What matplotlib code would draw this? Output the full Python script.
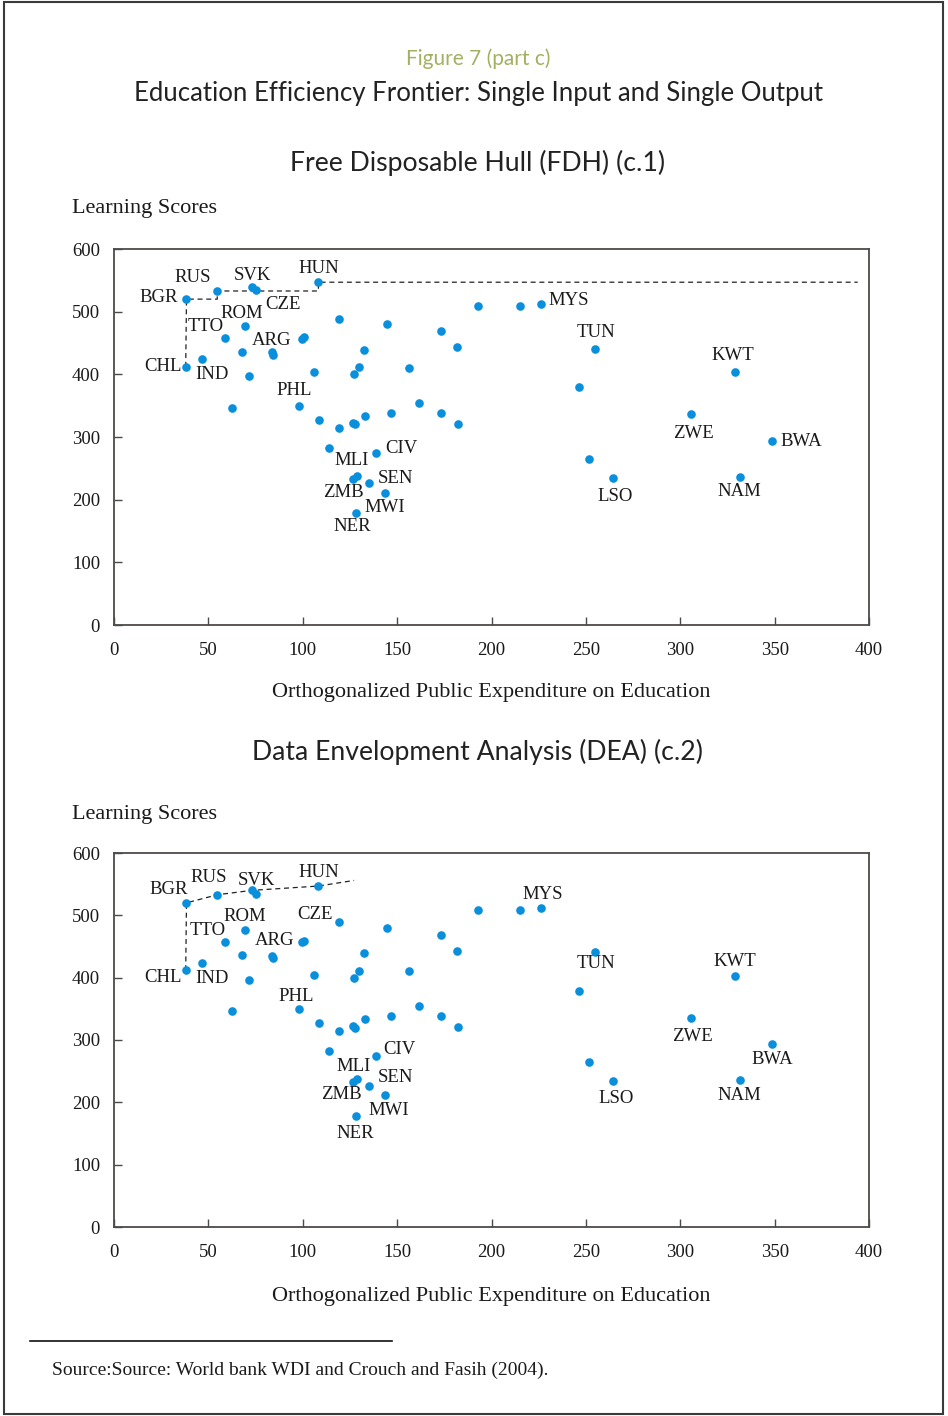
import numpy as np
import matplotlib
matplotlib.use("Agg")
import matplotlib.pyplot as plt
from matplotlib.patches import Rectangle

spend = [38.4, 54.7, 72.9, 75.2, 108.3, 38.0, 46.6, 59.0, 69.4, 68.0,
         83.9, 84.2, 71.7, 99.5, 100.5, 119.0, 144.8, 132.6, 106.0, 130.0,
         127.2, 62.3, 98.2, 108.8, 119.0, 126.4, 127.8, 133.0, 146.8, 161.8,
         173.5, 182.0, 156.5, 173.4, 181.5, 193.0, 214.9, 226.2, 255.0, 246.2,
         328.8, 305.7, 348.6, 251.8, 264.2, 331.5, 113.7, 138.9, 126.8, 128.7,
         135.3, 143.6, 128.0]
scores = [520, 533, 540, 535, 547, 412, 424, 458, 477, 436,
          435, 431, 397, 457, 459, 489, 480, 439, 404, 411,
          400, 346, 350, 327, 314, 323, 320, 334, 338, 354,
          339, 321, 410, 469, 443, 509, 509, 512, 441, 379,
          403, 336, 293, 265, 234, 236, 282, 274, 233, 238,
          227, 211, 178]

# country code -> index into the arrays above
codes = {"BGR": 0, "RUS": 1, "SVK": 2, "HUN": 4, "CHL": 5, "IND": 6,
         "TTO": 7, "ROM": 8, "ARG": 10, "CZE": 15, "PHL": 22, "MYS": 37,
         "TUN": 38, "KWT": 40, "ZWE": 41, "BWA": 42, "LSO": 44, "NAM": 45,
         "MLI": 46, "CIV": 47, "ZMB": 48, "SEN": 50, "MWI": 51, "NER": 52}

# frontiers
fdh_x = [38.0, 38.4, 54.7, 54.7, 108.3, 108.3, 394]
fdh_y = [412, 520, 520, 533, 533, 547, 547]
dea_x = [38.0, 38.4, 54.7, 72.9, 108.3, 127.2]
dea_y = [412, 520, 533, 540, 547, 556]

# label placement: (dx px, dy px down, ha)
lab_fdh = {"BGR": (-9, -2, "right"), "RUS": (-25, -13, "center"), "SVK": (1, -11, "center"),
           "HUN": (0, -14, "center"), "CZE": (-56, -14, "center"), "TTO": (-2, -11, "right"),
           "ROM": (-3, -13, "center"), "ARG": (-1, -12, "center"), "CHL": (-4, 0, "right"),
           "IND": (10, 15, "center"), "PHL": (-5, -15, "center"), "MLI": (23, 12, "center"),
           "CIV": (9, -5, "left"), "SEN": (8, -4, "left"), "ZMB": (-10, 14, "center"),
           "MWI": (0, 15, "center"), "NER": (-3, 13, "center"), "MYS": (8, -4, "left"),
           "TUN": (1, -16, "center"), "KWT": (-2, -17, "center"), "ZWE": (2, 19, "center"),
           "BWA": (8, 0, "left"), "LSO": (2, 18, "center"), "NAM": (0, 14, "center")}
lab_dea = {"BGR": (-18, -13, "center"), "RUS": (-9, -17, "center"), "SVK": (5, -10, "center"),
           "HUN": (0, -14, "center"), "CZE": (-24, -8, "center"), "TTO": (-18, -11, "center"),
           "ROM": (0, -13, "center"), "ARG": (2, -15, "center"), "CHL": (-4, 7, "right"),
           "IND": (10, 16, "center"), "PHL": (-3, -12, "center"), "MLI": (25, 15, "center"),
           "CIV": (7, -7, "left"), "SEN": (8, -8, "left"), "ZMB": (-12, 13, "center"),
           "MWI": (4, 15, "center"), "NER": (0, 17, "center"), "MYS": (2, -13, "center"),
           "TUN": (1, 11, "center"), "KWT": (0, -14, "center"), "ZWE": (1, 19, "center"),
           "BWA": (0, 15, "center"), "LSO": (3, 17, "center"), "NAM": (0, 16, "center")}

W, H = 948, 1416
serif = "Liberation Serif"
title_font = ["Lato", "DejaVu Sans"]
dot_col = "#0a8fdc"
spine_col = "#4d4a48"

fig = plt.figure(figsize=(W / 100, H / 100), dpi=100)
fig.patch.set_facecolor("white")

# page frame
fig.add_artist(Rectangle((4 / W, 2 / H), 939 / W, 1412 / H, transform=fig.transFigure,
                         fill=False, edgecolor="#3a3a3a", linewidth=1.5))


def fx(px):
    return px / W


def fy(py):
    return 1 - py / H


fig.text(fx(478), fy(59), "Figure 7 (part c)", ha="center", va="center",
         fontsize=15, color="#a3b062", family=title_font)
fig.text(fx(479), fy(94), "Education Efficiency Frontier: Single Input and Single Output",
         ha="center", va="center", fontsize=18.5, color="#222222", family=title_font)


def panel(top, bottom, title, title_y, ylab_y, xlab_y, fx_line, fy_line, labels):
    fig.text(fx(478), fy(title_y), title, ha="center", va="center", fontsize=19.2,
             color="#222222", family=title_font)
    fig.text(fx(72), fy(ylab_y), "Learning Scores", ha="left", va="center",
             fontsize=16, family=serif, color="#1a1a1a")
    ax = fig.add_axes([fx(114), fy(bottom), fx(869) - fx(114), (bottom - top) / H])
    ax.set_xlim(0, 400)
    ax.set_ylim(0, 600)
    ax.set_xticks(np.arange(0, 401, 50))
    ax.set_yticks(np.arange(0, 601, 100))
    ax.tick_params(direction="in", length=6, width=1, color=spine_col,
                   labelsize=13.5, pad=10)
    ax.tick_params(axis="x", pad=12)
    for lab in ax.get_xticklabels() + ax.get_yticklabels():
        lab.set_family(serif)
        lab.set_color("#1a1a1a")
    for sp in ax.spines.values():
        sp.set_color(spine_col)
        sp.set_linewidth(1.3)
    ax.plot(fx_line, fy_line, linestyle=(0, (4, 3)), color="#222222", linewidth=0.9, zorder=2)
    ax.plot(spend, scores, "o", color=dot_col, markersize=6.2, markeredgewidth=0, zorder=3)
    for name, (dx, dy, ha) in labels.items():
        i = codes[name]
        ax.annotate(name, (spend[i], scores[i]), xytext=(dx, -dy), textcoords="offset pixels",
                    ha=ha, va="center", fontsize=13.5, family=serif, color="#1a1a1a")
    fig.text(fx(491), fy(xlab_y), "Orthogonalized Public Expenditure on Education",
             ha="center", va="center", fontsize=16, family=serif, color="#1a1a1a")
    return ax


panel(249, 625, "Free Disposable Hull (FDH) (c.1)", 163, 209, 693, fdh_x, fdh_y, lab_fdh)
panel(853, 1227, "Data Envelopment Analysis (DEA) (c.2)", 752, 815, 1297, dea_x, dea_y, lab_dea)

# footnote rule and source
fig.add_artist(plt.Line2D([fx(30), fx(392)], [fy(1341), fy(1341)], transform=fig.transFigure,
                          color="#111111", linewidth=1.2))
fig.text(fx(52), fy(1370), "Source:Source: World bank WDI and Crouch and Fasih (2004).",
         ha="left", va="center", fontsize=14, family=serif, color="#1a1a1a")

fig.savefig("out.png", dpi=100)
